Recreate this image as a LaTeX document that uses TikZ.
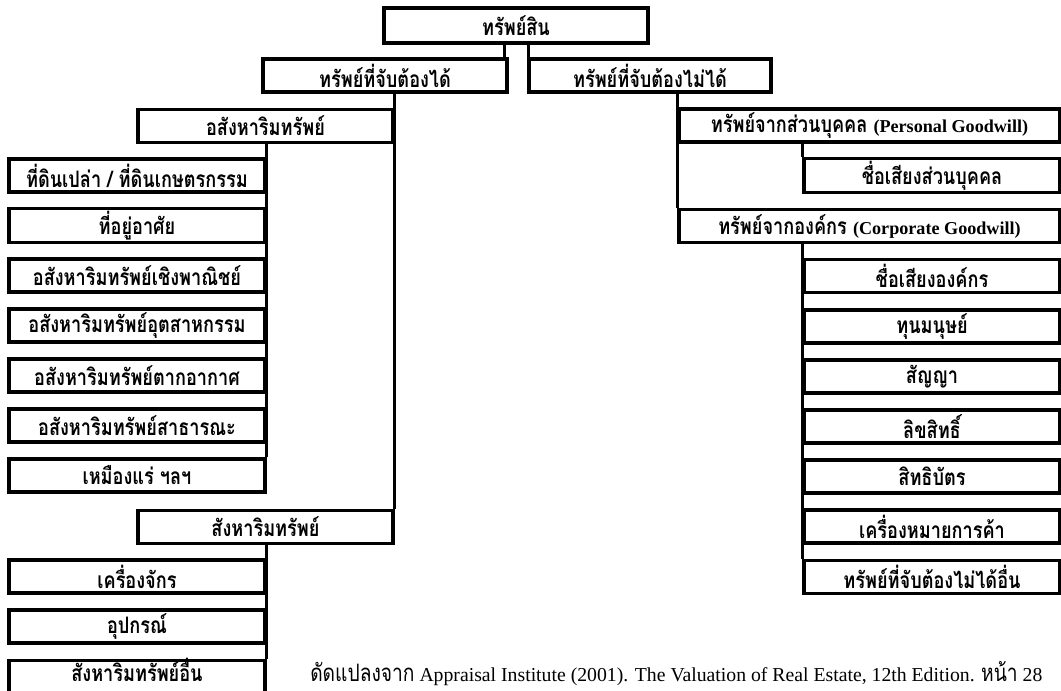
\documentclass[tikz,border=0pt]{standalone}
\usepackage{fontspec}
\setmainfont{Liberation Serif}
\newfontfamily\thaifont[Script=Thai, FakeStretch=0.8]{Loma}
\newcommand{\latinpart}[1]{{\fontsize{13.6}{16}\selectfont\rmfamily #1}}
\usetikzlibrary{positioning}

\begin{document}
\begin{tikzpicture}[x=0.75pt, y=-0.75pt, line width=2.4pt, every node/.style={
    rectangle,
    draw,
    line width=2.4pt,
    inner sep=2pt,
    minimum width=192pt,
    minimum height=24.75pt,
    font=\fontsize{17}{19}\selectfont\thaifont\bfseries
}]

    \useasboundingbox (0, 0) rectangle (1061, 691);
    \clip (0, 0) rectangle (1061, 691);



    \node (property) [minimum width=198pt, minimum height=26.25pt, shift={(516, 25.5)}]
    {
        ทรัพย์สิน
    };

    \node (tangible_assets) [minimum width=183pt, shift={(385, 75.5)}]
    {
        ทรัพย์ที่จับต้องได้
    };

    \node (intangible_assets) [minimum width=181.5pt, shift={(650, 75.5)}]
    {
        ทรัพย์ที่จับต้องไม่ได้
    };





    \node (real_estate) [minimum width=191.25pt, shift={(265.5, 126)}]
    {
        อสังหาริมทรัพย์
    };

    \node (vacant_land) [shift={(137, 175.5)}]
    {
        ที่ดินเปล่า / ที่ดินเกษตรกรรม
    };

    \node (residential) [shift={(137, 225.5)}]
    {
        ที่อยู่อาศัย
    };

    \node (commercial) [shift={(137, 275.5)}]
    {
        อสังหาริมทรัพย์เชิงพาณิชย์
    };

    \node (industrial) [shift={(137, 325.5)}]
    {
        อสังหาริมทรัพย์อุตสาหกรรม
    };

    \node (resort) [shift={(137, 375.5)}]
    {
        อสังหาริมทรัพย์ตากอากาศ
    };

    \node (public_use) [shift={(137, 425.5)}]
    {
        อสังหาริมทรัพย์สาธารณะ
    };

    \node (mining) [shift={(137, 475.5)}]
    {
        เหมืองแร่ ฯลฯ
    };





    \node (personal_property) [minimum width=191.25pt, shift={(265.5, 527)}]
    {
        สังหาริมทรัพย์
    };

    \node (machinery) [shift={(137, 576.5)}]
    {
        เครื่องจักร
    };

    \node (equipment) [shift={(137, 626.5)}]
    {
        อุปกรณ์
    };

    \node (other_personal_property) [text height=13pt, text depth=6pt, shift={(137, 677)}]
    {
        สังหาริมทรัพย์อื่น
    };





    \node (personal_goodwill) [minimum width=285.75pt, shift={(869.5, 125.5)}]
    {
        ทรัพย์จากส่วนบุคคล \latinpart{(Personal Goodwill)}
    };

    \node (personal_reputation) [shift={(932, 175.5)}]
    {
        ชื่อเสียงส่วนบุคคล
    };

    \node (corporate_goodwill) [minimum width=285.75pt, shift={(869.5, 226)}]
    {
        ทรัพย์จากองค์กร \latinpart{(Corporate Goodwill)}
    };

    \node (corporate_reputation) [shift={(932, 276)}]
    {
        ชื่อเสียงองค์กร
    };

    \node (human_capital) [shift={(932, 326.5)}]
    {
        ทุนมนุษย์
    };

    \node (contracts) [shift={(932, 376.5)}]
    {
        สัญญา
    };

    \node (copyrights) [shift={(932, 426.5)}]
    {
        ลิขสิทธิ์
    };

    \node (patents) [shift={(932, 476.5)}]
    {
        สิทธิบัตร
    };

    \node (trademarks) [shift={(932, 526.5)}]
    {
        เครื่องหมายการค้า
    };

    \node (other_intangibles) [shift={(932, 577)}]
    {
        ทรัพย์ที่จับต้องไม่ได้อื่น
    };





    \node (source_note) [draw=none, minimum width=0pt, minimum height=0pt, anchor=west,
        font=\fontsize{14.8}{17}\selectfont, shift={(306, 674)}]
    {
        {\fontsize{18}{20}\selectfont\thaifont ดัดแปลงจาก} Appraisal Institute (2001). The Valuation of Real Estate, 12th Edition. {\fontsize{18}{20}\selectfont\thaifont หน้า} 28
    };


    \draw ([xshift=-3pt]tangible_assets.north east) -- ([xshift=-3pt]tangible_assets.north east |- property.south);
    \draw ([xshift=1pt]intangible_assets.north west) -- ([xshift=1pt]intangible_assets.north west |- property.south);

    \draw (tangible_assets.south -| real_estate.east) -- (personal_property.north east);
    \draw (real_estate.south -| vacant_land.east) -- (mining.north east);
    \draw (personal_property.south -| machinery.east) -- (other_personal_property.north east);

    \draw (intangible_assets.south -| personal_goodwill.west) -- (corporate_goodwill.north west);
    \draw (personal_goodwill.south -| personal_reputation.west) -- (personal_reputation.north west);
    \draw (corporate_goodwill.south -| corporate_reputation.west) -- (other_intangibles.north west);


\end{tikzpicture}
\end{document}
